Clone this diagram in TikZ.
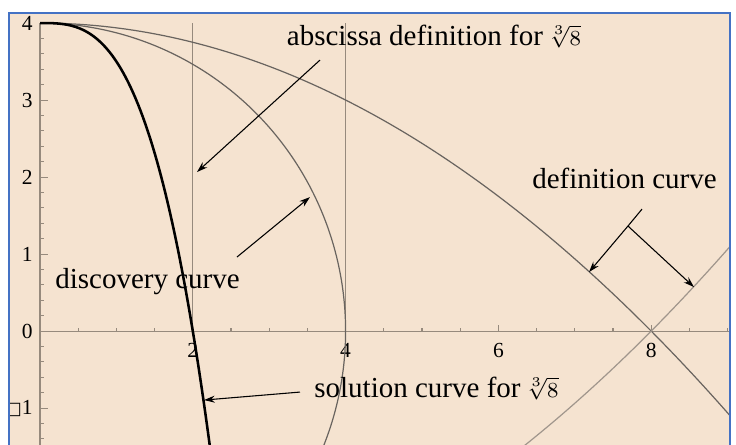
\documentclass[tikz,border=0pt]{standalone}
\usepackage{fontspec}
\setmainfont{Liberation Serif}
\newfontfamily\boxfont{DejaVu Sans}
\usetikzlibrary{arrows.meta}
\definecolor{paper}{RGB}{245,227,208}
\definecolor{frameblue}{RGB}{68,114,196}
\definecolor{curvegray}{RGB}{105,100,95}
\definecolor{axisgray}{RGB}{150,138,125}
\definecolor{lightcurve}{RGB}{160,150,140}

\begin{document}
\begin{tikzpicture}[
    x=1cm, y=1.008cm,
    note/.style={font=\fontsize{10.8}{12}\selectfont, anchor=base, inner sep=0pt},
    ticklabel/.style={font=\fontsize{8}{9}\selectfont, inner sep=0pt},
    pointer/.style={-{Stealth[length=4pt, width=2.6pt]}, line width=0.4pt, color=black},
    curve/.style={line width=0.45pt, color=curvegray},
    guide/.style={line width=0.45pt, color=axisgray},
    axis/.style={line width=0.4pt, color=axisgray}
]
\useasboundingbox (-0.5236,-1.4675) rectangle (9.110,4.299);
\fill[white] (-0.5236,-1.4675) rectangle (9.110,4.299);
\fill[paper] (-0.406,-1.6) rectangle (9.031,4.130);

\begin{scope}
\clip (-0.406,-1.4675) rectangle (9.031,4.130);
\draw[axis] (0,4) -- (0,-1.6);
\draw[axis] (0,0) -- (9.031,0);
\foreach \k in {-7,...,20} {
    \draw[axis] (0,\k/5) -- ++(0.052,0);
}
\foreach \k in {-1,...,4} {
    \draw[axis] (0,\k) -- ++(0.105,0);
}
\foreach \k in {1,...,18} {
    \draw[axis] (\k/2,0) -- ++(0,0.045);
}
\foreach \k in {2,4,6,8} {
    \draw[axis] (\k,0) -- ++(0,0.08);
}
\foreach \k in {0,...,4} {
    \node[ticklabel, anchor=east] (ylab\k) at (-0.09,\k) {\k};
}
\node[ticklabel, anchor=east] (ylabneg) at (-0.09,-1) {{\boxfont\fontsize{6.5}{7}\selectfont □}1};
\foreach \k in {2,4,6,8} {
    \node[ticklabel] (xlab\k) at (\k,-0.25) {\k};
}

\draw[guide] (2,4) -- (2,0);
\draw[guide] (4,4) -- (4,0.18);
\draw[curve] plot[domain=0:9.1, samples=90, smooth] (\x,{4-\x*\x/16});
\draw[curve, color=lightcurve] plot[domain=6.2:9.1, samples=40, smooth] (\x,{\x*\x/16-4});
\draw[curve] (0,4) arc[start angle=90, end angle=-24, radius=4];
\draw[line width=0.95pt] plot[domain=0:2.3, samples=90, smooth] (\x,{4-\x*\x*\x/2});
\end{scope}

\node[note] (abscissa) at (5.157,3.714) {abscissa definition for\,$\scriptstyle\sqrt[3]{8}$};
\node[note] (definition) at (7.65,1.857) {definition curve};
\node[note] (discovery) at (1.407,0.558) {discovery curve};
\node[note] (solution) at (5.19,-0.857) {solution curve for\,$\scriptstyle\sqrt[3]{8}$};

\coordinate (absfrom) at (3.665,3.519);
\coordinate (abstip) at (2.055,2.065);
\coordinate (discfrom) at (2.578,0.961);
\coordinate (disctip) at (3.534,1.740);
\coordinate (deffrom) at (7.88,1.584);
\coordinate (deffork) at (7.696,1.364);
\coordinate (deftipa) at (7.186,0.766);
\coordinate (deftipb) at (8.56,0.571);
\coordinate (solfrom) at (3.403,-0.792);
\coordinate (soltip) at (2.147,-0.896);
\draw[pointer] (absfrom) -- (abstip);
\draw[pointer] (discfrom) -- (disctip);
\draw[line width=0.4pt] (deffrom) -- (deffork);
\draw[pointer] (deffork) -- (deftipa);
\draw[pointer] (deffork) -- (deftipb);
\draw[pointer] (solfrom) -- (soltip);

\draw[frameblue, line width=0.8pt] (-0.406,-1.6) -- (-0.406,4.130) -- (9.031,4.130) -- (9.031,-1.6);
\end{tikzpicture}
\end{document}
